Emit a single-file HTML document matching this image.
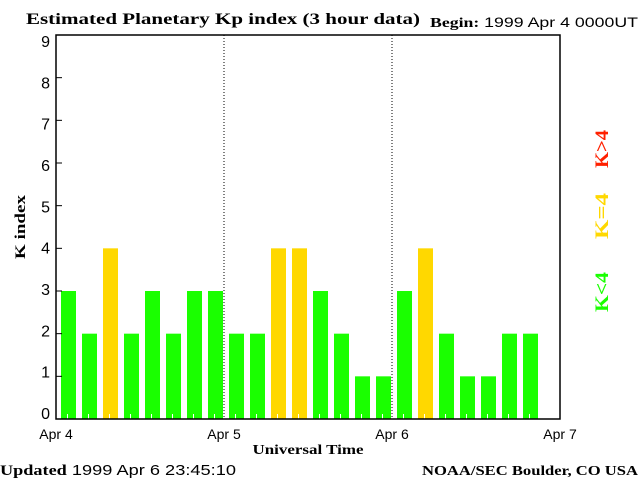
<!DOCTYPE html>
<html><head><meta charset="utf-8"><style>
body{margin:0;background:#fff;}
svg text{font-family:"Liberation Sans",sans-serif;}
.serif{font-family:"Liberation Serif",serif;font-weight:bold;}
</style></head><body>
<svg id="chart" width="640" height="480" viewBox="0 0 640 480" xmlns="http://www.w3.org/2000/svg">
<text class="serif" x="26" y="24" font-size="16" textLength="394" lengthAdjust="spacingAndGlyphs">Estimated Planetary Kp index (3 hour data)</text>
<text x="430" y="27" font-size="14" textLength="208" lengthAdjust="spacingAndGlyphs"><tspan class="serif">Begin:</tspan>  1999 Apr 4 0000UT</text>
<g id="bars"></g>
<g id="axes"></g>
<text class="serif" x="25" y="227" font-size="15" textLength="64" lengthAdjust="spacingAndGlyphs" transform="rotate(-90 25 227)" text-anchor="middle">K index</text>
<text class="serif" x="308" y="454" font-size="14" textLength="111" lengthAdjust="spacingAndGlyphs" text-anchor="middle">Universal Time</text>
<text x="0" y="475" font-size="15" textLength="236" lengthAdjust="spacingAndGlyphs"><tspan class="serif">Updated</tspan> 1999 Apr  6 23:45:10</text>
<text class="serif" x="422" y="475" font-size="14" textLength="216" lengthAdjust="spacingAndGlyphs">NOAA/SEC Boulder, CO USA</text>
<text class="serif" x="608" y="292" font-size="19" fill="#1aff00" textLength="40" lengthAdjust="spacingAndGlyphs" transform="rotate(-90 608 292)" text-anchor="middle">K&lt;4</text>
<text class="serif" x="608" y="216" font-size="19" fill="#ffd800" textLength="46" lengthAdjust="spacingAndGlyphs" transform="rotate(-90 608 216)" text-anchor="middle">K=4</text>
<text class="serif" x="608" y="149" font-size="19" fill="#ff2000" textLength="38" lengthAdjust="spacingAndGlyphs" transform="rotate(-90 608 149)" text-anchor="middle">K&gt;4</text>
</svg>
<script>
const kpValues = [3,2,4,2,3,2,3,3, 2,2,4,4,3,2,1,1, 3,4,2,1,1,2,2];
const yTicks = [0,1,2,3,4,5,6,7,8,9];
const dayLabels = ["Apr 4","Apr 5","Apr 6","Apr 7"];
const NS='http://www.w3.org/2000/svg';
const L=56,R=560,T=35,B=419,slots=24;
const sw=(R-L)/slots;
const y=v=>B-(v/9)*(B-T);
const x=i=>L+i*sw;
function mk(t,a,p){const e=document.createElementNS(NS,t);for(const k in a)e.setAttribute(k,a[k]);p.appendChild(e);return e;}
const bars=document.getElementById('bars'),axes=document.getElementById('axes');
kpValues.forEach((v,i)=>{
  const c=v<4?'#1aff00':(v==4?'#ffd800':'#ff2000');
  const r=mk('rect',{x:x(i)+5,y:y(v),width:sw-6,height:B-y(v),fill:c},bars);
  
  
});
for(let i=0;i<slots;i++){mk('line',{x1:x(i)+sw/2+1,x2:x(i)+sw/2+1,y1:B-5,y2:B,stroke:'#fff'},bars);}
const fr=mk('rect',{x:L,y:T,width:R-L,height:B-T,fill:'none',stroke:'#000','stroke-width':1.5},axes);


yTicks.forEach(v=>{
  mk('line',{x1:L,x2:L+6,y1:y(v),y2:y(v),stroke:'#000'},axes);
  const t=mk('text',{x:L-6,y:B-v*(B-T-12)/9,'font-size':16,'text-anchor':'end'},axes);t.textContent=v;
  
  
});
dayLabels.forEach((d,i)=>{
  const xx=L+i*8*sw;
  if(i>0&&i<3)mk('line',{x1:xx,x2:xx,y1:T,y2:B,stroke:'#000','stroke-dasharray':'1,2'},axes);
  const t=mk('text',{x:xx,y:439,'font-size':14,'text-anchor':'middle'},axes);t.textContent=d;
  
  
});
</script>
</body></html>
